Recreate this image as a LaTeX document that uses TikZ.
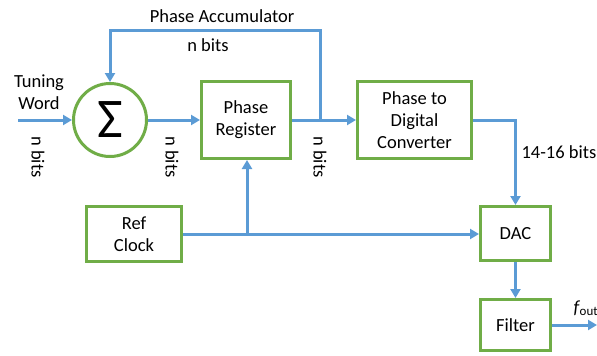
\documentclass[tikz,border=0pt]{standalone}
\usepackage{fontspec}
\setmainfont{Carlito}
\usetikzlibrary{arrows.meta,positioning,calc}
\definecolor{boxgreen}{RGB}{112,173,71}
\definecolor{wireblue}{RGB}{91,155,213}
\tikzset{
  block/.style={draw=boxgreen, line width=3pt, fill=white, inner sep=0pt,
    align=center, font=\fontsize{18.5}{22}\selectfont},
  sumnode/.style={circle, draw=boxgreen, line width=3pt, fill=white,
    minimum size=73pt, inner sep=0pt},
  wire/.style={draw=wireblue, line width=3pt,
    -{Triangle[length=9pt,width=10pt]}},
  plainwire/.style={draw=wireblue, line width=3pt},
  lbl/.style={font=\fontsize{18.5}{22}\selectfont, align=center},
  vlbl/.style={lbl, rotate=-90}
}

\begin{document}
\begin{tikzpicture}[x=1pt,y=-1pt]
   \useasboundingbox (0,0) rectangle (597,356);
   % blocks
   \node[sumnode] (sum) at (110,120) {\fontsize{56}{60}\selectfont Σ};
   \node[block, minimum width=89pt, minimum height=77pt] (preg) at (246,120) {Phase\\Register};
   \node[block, minimum width=114pt, minimum height=77pt] (pdc) at (414.5,120) {Phase to\\Digital\\Converter};
   \node[block, minimum width=95pt, minimum height=55pt] (clk) at (134,234) {Ref\\Clock};
   \node[block, minimum width=70pt, minimum height=54pt] (dac) at (515.5,233.5) {DAC};
   \node[block, minimum width=70pt, minimum height=51pt] (filt) at (515.5,325) {Filter};
   % helper points
   \coordinate (tw) at (18,120);
   \coordinate (tap) at (320,120);
   \coordinate (fb) at (320,30);
   \coordinate (clktap) at (247,234);
   \coordinate (fout) at (597,325);
   % labels
   \node[lbl] (twlbl) at (39,92) {Tuning\\Word};
   \node[lbl] (acclbl) at (222,16) {Phase Accumulator};
   \node[lbl] (fblbl) at (208,45) {n bits};
   \node[vlbl] (bits1) at (38,157) {n bits};
   \node[vlbl] (bits2) at (172,157) {n bits};
   \node[vlbl] (bits3) at (320,157) {n bits};
   \node[lbl, anchor=west] (bits4) at (518,152) {14-16 bits};
   \node[lbl, anchor=west] (foutlbl) at (570,308) {\itshape f\kern0.5pt\textsubscript{\upshape out}};
   % connectors
   \path[wire] (tw) -- (sum);
   \path[wire] (sum) -- (preg);
   \path[plainwire] (preg.east) -- (tap);
   \path[wire] (tap) -- (pdc);
   \path[wire] (tap) -- (fb) -| (sum.north);
   \path[wire] (pdc.east) -| (dac.north);
   \path[wire] (clk.east) -- (dac.west |- clktap);
   \path[wire] (clktap) -- (preg.south -| clktap);
   \path[wire] (dac) -- (filt);
   \path[wire] (filt.east) -- (fout);
\end{tikzpicture}
\end{document}
